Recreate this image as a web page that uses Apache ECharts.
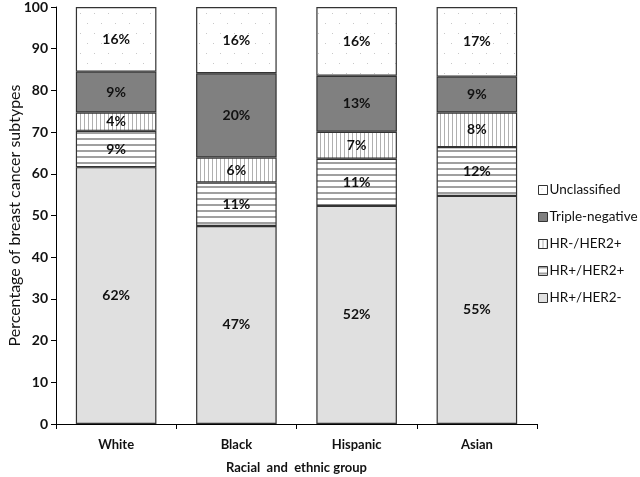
<!DOCTYPE html>
<html><head><meta charset="utf-8">
<script src="https://cdn.jsdelivr.net/npm/echarts@6/dist/echarts.min.js"></script>
<style>html,body{margin:0;padding:0;background:#fff}#c{width:640px;height:477px}</style>
</head><body><div id="c"></div>
<script>
const categories = ['White', 'Black', 'Hispanic', 'Asian'];
const seriesNames = ['HR+/HER2-', 'HR+/HER2+', 'HR-/HER2+', 'Triple-negative', 'Unclassified'];
const hrPosHer2Neg = [61.6, 47.5, 52.3, 54.7];
const hrPosHer2Pos = [8.7, 10.4, 11.3, 11.7];
const hrNegHer2Pos = [4.4, 6.0, 6.5, 8.3];
const tripleNeg = [9.8, 20.2, 13.4, 8.6];
const unclassified = [15.5, 15.9, 16.5, 16.7];
const labelsHrPosHer2Neg = ['62%', '47%', '52%', '55%'];
const labelsHrPosHer2Pos = ['9%', '11%', '11%', '12%'];
const labelsHrNegHer2Pos = ['4%', '6%', '7%', '8%'];
const labelsTripleNeg = ['9%', '20%', '13%', '9%'];
const labelsUnclassified = ['16%', '16%', '16%', '17%'];
const yTicks = [0, 10, 20, 30, 40, 50, 60, 70, 80, 90, 100];

function makeTile(w, h, draw) {
  const c = document.createElement('canvas');
  c.width = w; c.height = h;
  const g = c.getContext('2d');
  g.fillStyle = '#ffffff'; g.fillRect(0, 0, w, h);
  draw(g);
  return { image: c, repeat: 'repeat' };
}
const dotsPat = makeTile(14, 20, g => { g.fillStyle = '#c8c8c8'; g.fillRect(3, 3, 1, 1); g.fillRect(10, 13, 1, 1); });
const hLinesPat = makeTile(6, 6, g => { g.fillStyle = '#a0a0a0'; g.fillRect(0, 0, 6, 2); });
const vLinesPat = makeTile(4, 4, g => { g.fillStyle = '#b0b0b0'; g.fillRect(0, 0, 1, 4); });

const FONT = 'Lato';
const datasets = [hrPosHer2Neg, hrPosHer2Pos, hrNegHer2Pos, tripleNeg, unclassified];
const labelSets = [labelsHrPosHer2Neg, labelsHrPosHer2Pos, labelsHrNegHer2Pos, labelsTripleNeg, labelsUnclassified];
const fills = ['#e0e0e0', hLinesPat, vLinesPat, '#808080', dotsPat];

const series = seriesNames.map((name, i) => ({
  name: name,
  type: 'bar',
  stack: 'total',
  barCategoryGap: '33%',
  data: datasets[i],
  itemStyle: { color: fills[i], borderColor: '#333', borderWidth: 1.2 },
  label: {
    show: true, position: 'inside',
    formatter: p => labelSets[i][p.dataIndex],
    fontFamily: FONT, fontWeight: 'bold', fontSize: 14, color: '#111'
  },
  emphasis: { disabled: true }
}));

const chart = echarts.init(document.getElementById('c'), null, { renderer: 'canvas' });
chart.setOption({
  animation: false,
  grid: { left: 56, right: 103, top: 7, bottom: 53, containLabel: false, outerBoundsMode: 'none' },
  legend: {
    orient: 'vertical', left: 533, top: 178,
    icon: 'rect',
    data: ['Unclassified', 'Triple-negative', 'HR-/HER2+', 'HR+/HER2+', 'HR+/HER2-'],
    itemWidth: 9, itemHeight: 9, itemGap: 13,
    itemStyle: { borderColor: '#333', borderWidth: 1 },
    textStyle: { fontFamily: FONT, fontSize: 13.5, color: '#111', padding: [0, 0, 0, -3] },
    selectedMode: false
  },
  xAxis: {
    type: 'category', data: categories,
    name: 'Racial  and  ethnic group', nameLocation: 'middle', nameGap: 37,
    nameTextStyle: { fontFamily: FONT, fontSize: 13, fontWeight: 'bold', color: '#111' },
    axisLine: { lineStyle: { color: '#000', width: 1 } },
    axisTick: { show: true, length: 5, inside: false, lineStyle: { color: '#000' } },
    axisLabel: { fontFamily: FONT, fontSize: 13, fontWeight: 'bold', color: '#111', margin: 14 }
  },
  yAxis: {
    type: 'value', min: 0, max: 100, interval: 10,
    name: 'Percentage of breast cancer subtypes', nameLocation: 'middle', nameGap: 33,
    nameMoveOverlap: false,
    nameTextStyle: { fontFamily: FONT, fontSize: 16, color: '#111' },
    axisLine: { show: true, lineStyle: { color: '#000', width: 1 } },
    axisTick: { show: true, length: 5, lineStyle: { color: '#000' } },
    axisLabel: { fontFamily: FONT, fontSize: 14, fontWeight: 'bold', color: '#111', margin: 8,
      formatter: v => yTicks.includes(v) ? String(v) : '' },
    splitLine: { show: false }
  },
  series: series
});
</script></body></html>
